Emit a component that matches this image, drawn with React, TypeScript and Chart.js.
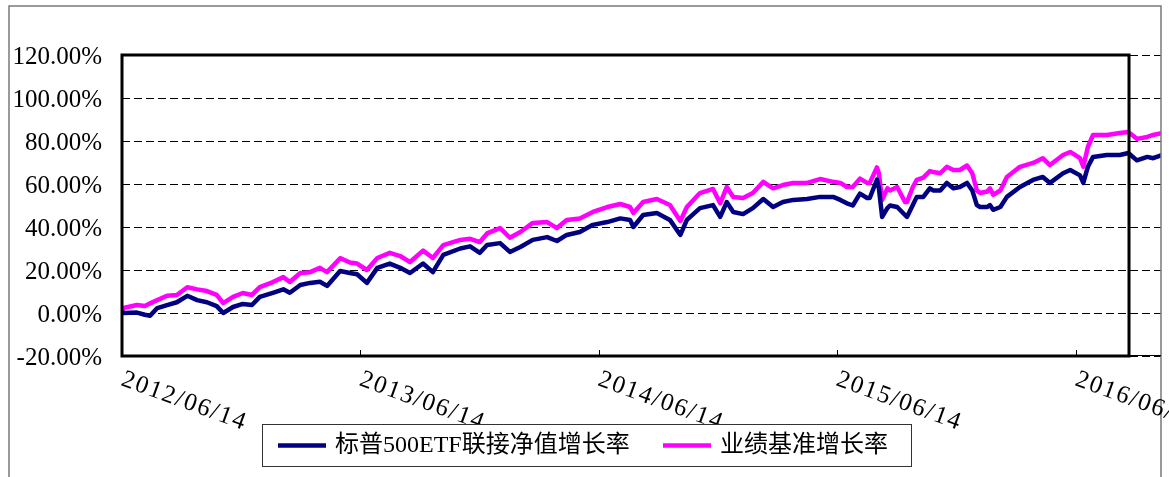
import React, { useEffect, useRef } from 'react';
import { Chart, registerables } from 'chart.js';

Chart.register(...registerables);

// Days elapsed since 2012/06/14
const dayOffsets = [
  0, 2, 23, 35, 43, 54, 69, 84, 100, 115,
  130, 145, 155, 170, 185, 199, 211, 231, 247, 257,
  273, 288, 303, 314, 334, 349, 360, 375, 391, 410,
  426, 441, 461, 476, 492, 518, 533, 548, 559, 579,
  594, 610, 629, 651, 666, 681, 701, 721, 743, 763,
  778, 783, 798, 819, 839, 855, 865, 885, 905, 916,
  926, 936, 951, 966, 982, 997, 1012, 1028, 1049, 1069,
  1089, 1100, 1110, 1119, 1130, 1141, 1145, 1156, 1159, 1164,
  1172, 1176, 1187, 1199, 1202, 1211, 1217, 1227, 1237, 1242,
  1253, 1263, 1273, 1283, 1294, 1302, 1309, 1314, 1325, 1329,
  1334, 1345, 1355, 1375, 1395, 1410, 1421, 1441, 1452, 1467,
  1472, 1479, 1487, 1508, 1528, 1541, 1554, 1570, 1579, 1593,
];

// 标普500ETF联接净值增长率 (%)
const navGrowth = [
  0, 0, 0.2, -0.8, -1.3, 2.3, 3.7, 5, 8, 6,
  5, 3.2, 0, 2.8, 4.2, 3.7, 7.5, 9.4, 11, 9.4,
  13, 14, 14.5, 12.6, 19.5, 18.6, 18, 14, 21, 23,
  21, 18.6, 23, 19, 27, 30, 31, 28, 31.6, 32.5,
  28.4, 30.7, 34, 35.3, 33.5, 36.3, 37.7, 41, 42.3, 44,
  43.3, 40, 45.6, 46.5, 43.3, 36.3, 43.3, 48.8, 50.2, 44.7,
  51.6, 47, 46, 48.8, 53, 49.3, 51.6, 52.6, 53, 54,
  54, 52.6, 51, 50, 55.5, 53.5, 53.5, 62, 58, 44.7,
  48.8, 50, 49.3, 45.6, 44.7, 50.2, 54, 54, 58, 57,
  57, 60.5, 58, 58.6, 60.5, 57, 50.2, 49.3, 49.3, 50.2,
  48, 49.3, 54, 58.6, 61.9, 63.3, 60.5, 65, 66.5, 64,
  60.5, 68, 72.6, 73.5, 73.5, 74.4, 71, 72.6, 72, 73.5,
];

// 业绩基准增长率 (%)
const benchGrowth = [
  0.5, 2.3, 3.7, 3.3, 4.5, 6, 8, 8.4, 12, 11,
  10.2, 8.4, 4.6, 7.5, 9.3, 8.4, 12, 14.4, 16.7, 14.4,
  18.6, 19, 21, 19, 25.5, 23.5, 23, 20, 25.6, 28,
  26.5, 23.7, 29, 25.6, 31.6, 34, 34.5, 33, 37, 39.5,
  35, 37.7, 41.9, 42.3, 39.5, 43.3, 44, 47, 49.3, 50.7,
  49.3, 46.5, 51.6, 53, 50.2, 42.8, 49.3, 55.8, 57.7, 51,
  58.6, 54, 53.5, 55.8, 61, 58, 59.5, 60.5, 60.5, 62.3,
  61, 60.5, 58.6, 58.6, 62.5, 60.5, 60.5, 67.7, 65, 52.6,
  58, 57, 58.6, 51.6, 51.6, 58.6, 61.9, 63, 66, 65.6,
  65, 68, 66.5, 66.5, 68.6, 65, 57, 55.8, 56.5, 58,
  55, 57, 63.3, 68, 69.8, 72, 68.8, 73.5, 74.9, 72,
  68, 77.2, 82.8, 82.8, 83.7, 84.2, 81, 81.9, 82.8, 83.7,
];

const seriesLabels = ['标普500ETF联接净值增长率', '业绩基准增长率'];
const seriesColors = ['#000080', '#FF00FF'];
const xTickDays = [0, 365, 730, 1095, 1461];
const xTickLabels = ['2012/06/14', '2013/06/14', '2014/06/14', '2015/06/14', '2016/06/14'];
const yMin = -20;
const yMax = 120;
const yStep = 20;
const xMaxDay = 1591;

const SERIF = '"Liberation Serif", "Times New Roman", serif';
const LEGEND_FONT = '"Liberation Serif", "Noto Sans CJK SC", serif';

const decorPlugin = {
  id: 'decor',
  afterDatasetsDraw(chart: any) {
    const { ctx, chartArea, scales } = chart;
    const xs = scales.x;
    const ys = scales.y;
    const left = chartArea.left;
    const right = chartArea.right;
    const top = ys.getPixelForValue(yMax);
    const bottom = ys.getPixelForValue(yMin);
    const boxRight = right - 32;
    ctx.save();
    ctx.setLineDash([]);

    // outer frame (grey)
    ctx.strokeStyle = '#7a7a7a';
    ctx.lineWidth = 1.5;
    ctx.beginPath();
    ctx.moveTo(9, chart.height);
    ctx.lineTo(9, 6);
    ctx.lineTo(right, 6);
    ctx.lineTo(right, chart.height);
    ctx.stroke();

    // thin baseline continuation
    ctx.strokeStyle = '#000';
    ctx.lineWidth = 1;
    ctx.beginPath();
    ctx.moveTo(boxRight, bottom - 0.5);
    ctx.lineTo(right, bottom - 0.5);
    ctx.stroke();

    // plot box
    ctx.lineWidth = 3;
    ctx.strokeStyle = '#000';
    ctx.strokeRect(left, top, boxRight - left, bottom - top);

    // x tick marks (inside)
    ctx.lineWidth = 1;
    xTickDays.forEach((d, i) => {
      if (i === 0) return;
      const px = Math.round(xs.getPixelForValue(d)) + 0.5;
      ctx.beginPath();
      ctx.moveTo(px, bottom);
      ctx.lineTo(px, bottom - 6);
      ctx.stroke();
    });

    // x tick labels (rotated)
    ctx.fillStyle = '#000';
    ctx.font = `25px ${SERIF}`;
    try { (ctx as any).letterSpacing = '1.8px'; } catch (e) { /* ignore */ }
    ctx.textAlign = 'left';
    ctx.textBaseline = 'alphabetic';
    xTickDays.forEach((d, i) => {
      const px = xs.getPixelForValue(d);
      ctx.save();
      ctx.translate(px - 2, bottom + 29);
      ctx.rotate((20 * Math.PI) / 180);
      ctx.fillText(xTickLabels[i], 0, 0);
      ctx.restore();
    });
    try { (ctx as any).letterSpacing = '0px'; } catch (e) { /* ignore */ }

    // legend
    const lx = 262.5;
    const ly = 424.5;
    const lw = 649;
    const lh = 42;
    ctx.fillStyle = '#fff';
    ctx.fillRect(lx, ly, lw, lh);
    ctx.strokeStyle = '#333';
    ctx.lineWidth = 1;
    ctx.strokeRect(lx, ly, lw, lh);
    const cy = ly + lh / 2;
    const items = chart.data.datasets.map((ds: any) => ({ label: ds.label, color: ds.borderColor }));
    const starts = [278, 663];
    ctx.font = `24px ${LEGEND_FONT}`;
    ctx.textBaseline = 'middle';
    items.forEach((it: any, i: number) => {
      const sx = starts[i];
      ctx.strokeStyle = it.color;
      ctx.lineWidth = 4.5;
      ctx.beginPath();
      ctx.moveTo(sx, cy);
      ctx.lineTo(sx + 48, cy);
      ctx.stroke();
      ctx.fillStyle = '#000';
      ctx.fillText(it.label, sx + 57, cy);
    });

    ctx.restore();
  },
};

export default function App() {
  const canvasRef = useRef<HTMLCanvasElement | null>(null);

  useEffect(() => {
    const canvas = canvasRef.current;
    if (!canvas) return;
    const mk = (vals: number[]) => dayOffsets.map((d, i) => ({ x: d, y: vals[i] }));
    const chart = new Chart(canvas, {
      type: 'line',
      data: {
        datasets: [
          {
            label: seriesLabels[0],
            data: mk(navGrowth),
            borderColor: seriesColors[0],
            backgroundColor: seriesColors[0],
            borderWidth: 4.5,
            pointRadius: 0,
            tension: 0,
            borderJoinStyle: 'round',
            order: 0,
          },
          {
            label: seriesLabels[1],
            data: mk(benchGrowth),
            borderColor: seriesColors[1],
            backgroundColor: seriesColors[1],
            borderWidth: 4.5,
            pointRadius: 0,
            tension: 0,
            borderJoinStyle: 'round',
            order: 1,
          },
        ],
      },
      options: {
        animation: false,
        responsive: false,
        maintainAspectRatio: false,
        devicePixelRatio: 1,
        layout: { padding: { left: 0, top: 55, right: 8, bottom: 121 } },
        plugins: {
          legend: { display: false },
          tooltip: { enabled: false },
          title: { display: false },
        },
        scales: {
          x: {
            type: 'linear',
            display: false,
            min: 0,
            max: xMaxDay,
          },
          y: {
            type: 'linear',
            min: yMin,
            max: yMax,
            afterFit: (axis: any) => {
              axis.width = 122;
            },
            ticks: {
              stepSize: yStep,
              padding: 20,
              labelOffset: 2,
              color: '#000',
              font: { family: SERIF, size: 25 },
              callback: (v: any) => `${Number(v).toFixed(2)}%`,
            },
            grid: {
              color: '#000',
              lineWidth: 1,
              drawTicks: false,
            },
            border: { display: false, dash: [8, 4] },
          },
        },
      },
      plugins: [decorPlugin],
    } as any);
    return () => chart.destroy();
  }, []);

  return (
    <div style={{ position: 'absolute', left: 0, top: 0, width: 1169, height: 477, background: '#fff' }}>
      <canvas ref={canvasRef} width={1169} height={477} style={{ display: 'block', width: 1169, height: 477 }} />
    </div>
  );
}
